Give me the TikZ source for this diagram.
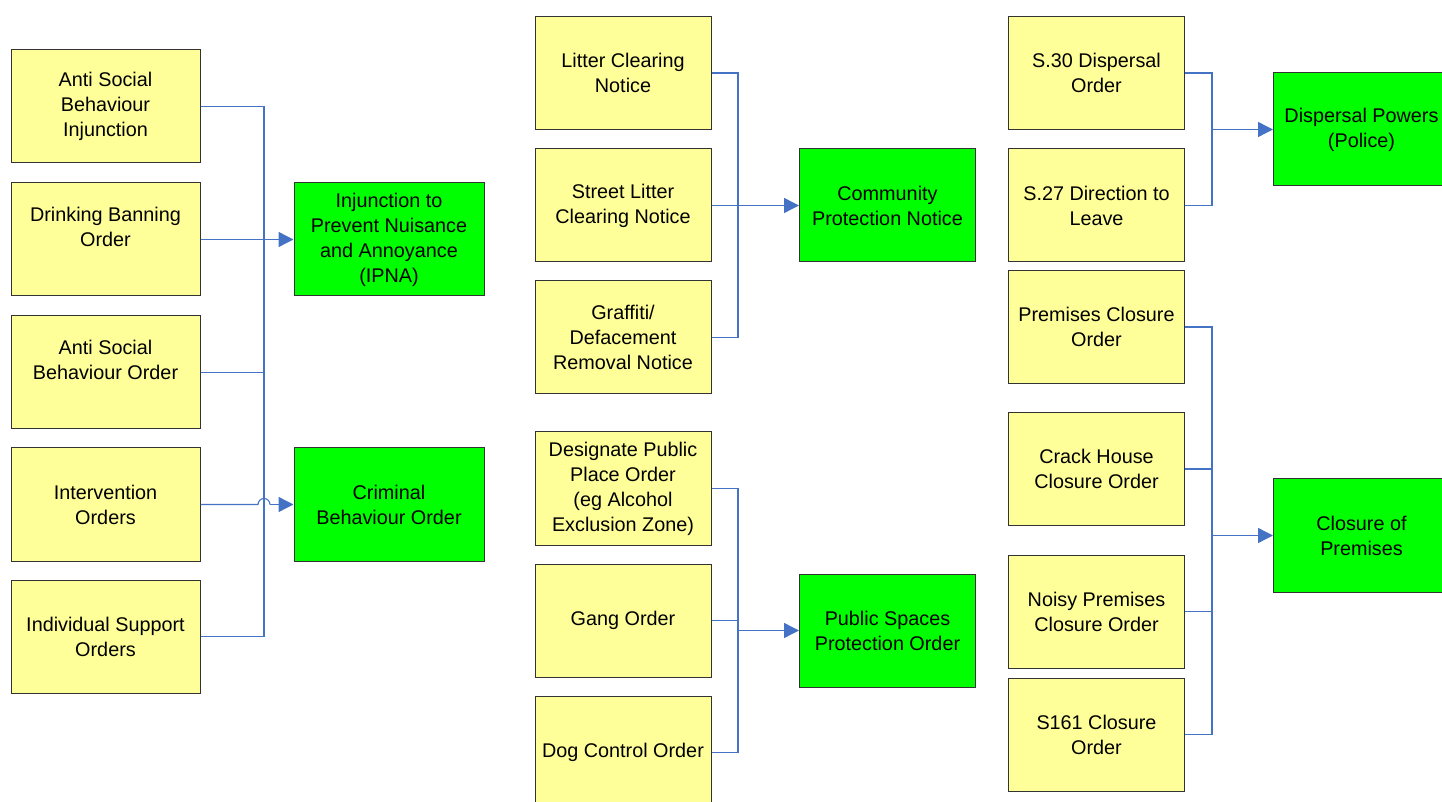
\documentclass[tikz,border=0pt]{standalone}
\usepackage{fontspec}
\setmainfont{Liberation Sans}
\usetikzlibrary{arrows.meta}
\definecolor{ylw}{RGB}{255,255,153}
\definecolor{grn}{RGB}{0,255,0}
\definecolor{lnk}{RGB}{68,114,196}
\begin{document}
\begin{tikzpicture}[x=0.5pt,y=-0.5pt,
  box/.style={draw=black!80,line width=0.5pt,align=center,inner sep=0pt,
    font=\fontsize{9.9}{12.5}\selectfont},
  ybox/.style={box,fill=ylw,minimum height=56.5pt},
  gbox/.style={box,fill=grn,minimum height=56.5pt},
  lw/.style={minimum width=94.5pt},
  mw/.style={minimum width=88pt},
  link/.style={draw=lnk,line width=0.55pt},
  arr/.style={link,line width=0.7pt,-{Triangle[length=7.5pt,width=7.5pt]}}]
\useasboundingbox (0,0) rectangle (1442,802);
\begin{scope}
\clip (0,0) rectangle (1442,802);
% left column
\node[ybox,lw] (b1) at (105.5,106.5) {Anti Social\\Behaviour\\Injunction};
\node[ybox,lw] (b2) at (105.5,239.5) {Drinking Banning\\Order\\\mbox{}};
\node[ybox,lw] (b3) at (105.5,372.5) {Anti Social\\Behaviour Order\\\mbox{}};
\node[ybox,lw] (b4) at (105.5,504.5) {Intervention\\Orders};
\node[ybox,lw] (b5) at (105.5,636.5) {Individual Support\\Orders};
\node[gbox,minimum width=95pt] (ipna) at (389,239.5) {Injunction to\\Prevent Nuisance\\and Annoyance\\(IPNA)};
\node[gbox,minimum width=95pt] (cbo) at (389,504.5) {Criminal\\Behaviour Order};
% middle column
\node[ybox,mw] (lit) at (623,73) {Litter Clearing\\Notice};
\node[ybox,mw] (str) at (623,205.5) {Street Litter\\Clearing Notice};
\node[ybox,mw] (gra) at (623,337.5) {Graffiti/\\Defacement\\Removal Notice};
\node[ybox,mw] (des) at (623,488.5) {Designate Public\\Place Order\\(eg Alcohol\\Exclusion Zone)};
\node[ybox,mw] (gang) at (623,620.5) {Gang Order};
\node[ybox,mw] (dog) at (623,752.5) {Dog Control Order};
\node[gbox,mw] (cpn) at (887.5,205.5) {Community\\Protection Notice};
\node[gbox,mw] (pspo) at (887.5,630.5) {Public Spaces\\Protection Order};
% right column
\node[ybox,mw] (s30) at (1096.5,73) {S.30 Dispersal\\Order};
\node[ybox,mw] (s27) at (1096.5,205.5) {S.27 Direction to\\Leave};
\node[ybox,mw] (prem) at (1096.5,327) {Premises Closure\\Order};
\node[ybox,mw] (crack) at (1096.5,469) {Crack House\\Closure Order};
\node[ybox,mw] (noisy) at (1096.5,611.5) {Noisy Premises\\Closure Order};
\node[ybox,mw] (s161) at (1096.5,734.5) {S161 Closure\\Order};
\node[gbox,mw] (disp) at (1361.5,129.5) {Dispersal Powers\\(Police)};
\node[gbox,mw] (clos) at (1361.5,535.5) {Closure of\\Premises};
% left connectors
\coordinate (Lt) at (264,106.5);
\coordinate (Lb) at (264,636.5);
\coordinate (Lh1) at (258,504.5);
\coordinate (Lh2) at (270,504.5);
\draw[link] (b1.east) -- (Lt) -- (Lb) -- (b5.east);
\draw[link] (b3.east) -- (b3.east -| Lt);
\draw[arr] (b2.east) -- (ipna.west);
\draw[link] (b4.east) -- (Lh1) arc[start angle=180,end angle=360,radius=6];
\draw[arr] (Lh2) -- (cbo.west);
% middle connectors
\coordinate (Mt) at (738,73);
\coordinate (Mb) at (738,337.5);
\draw[link] (lit.east) -- (Mt) -- (Mb) -- (gra.east);
\draw[arr] (str.east) -- (cpn.west);
\coordinate (Nt) at (738,488.5);
\coordinate (Nb) at (738,752.5);
\coordinate (Na) at (738,630.5);
\draw[link] (des.east) -- (Nt) -- (Nb) -- (dog.east);
\draw[link] (gang.east) -- (gang.east -| Nt);
\draw[arr] (Na) -- (pspo.west);
% right connectors
\coordinate (Rt) at (1212,73);
\coordinate (Rb) at (1212,205.5);
\coordinate (Ra) at (1212,129.5);
\draw[link] (s30.east) -- (Rt) -- (Rb) -- (s27.east);
\draw[arr] (Ra) -- (disp.west);
\coordinate (St) at (1212,327);
\coordinate (Sb) at (1212,734.5);
\coordinate (Sa) at (1212,535.5);
\draw[link] (prem.east) -- (St) -- (Sb) -- (s161.east);
\draw[link] (crack.east) -- (crack.east -| St);
\draw[link] (noisy.east) -- (noisy.east -| St);
\draw[arr] (Sa) -- (clos.west);
\end{scope}
\end{tikzpicture}
\end{document}
